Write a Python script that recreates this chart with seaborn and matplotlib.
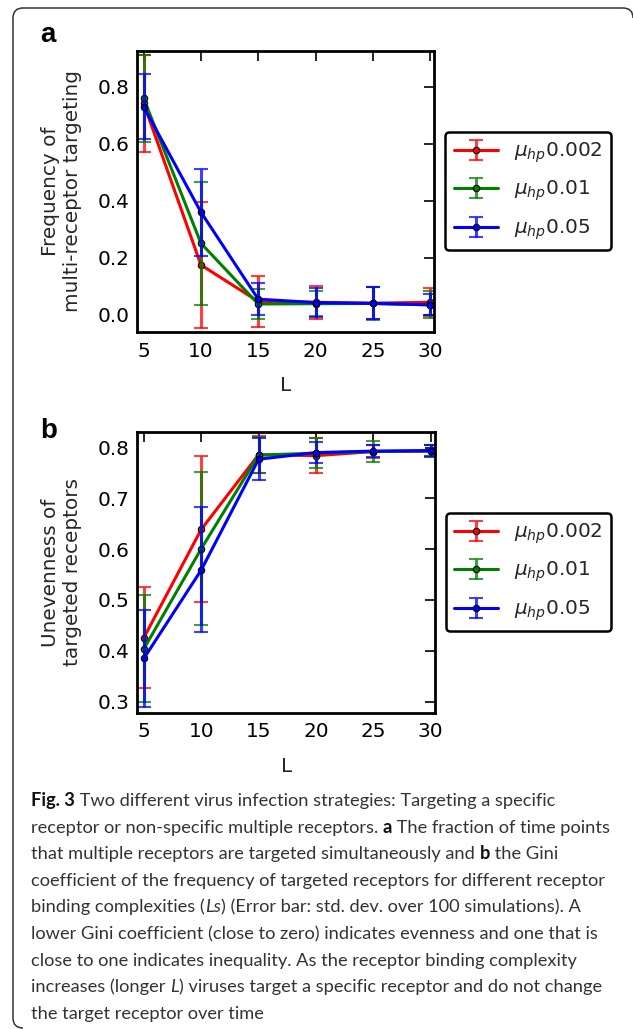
import seaborn as sns
import matplotlib.pyplot as plt
from matplotlib.patches import PathPatch
from matplotlib.path import Path
from matplotlib.transforms import IdentityTransform
from matplotlib.legend_handler import HandlerTuple

# ---- Data ----
L_VALUES = [5, 10, 15, 20, 25, 30]
MU_LABELS = [r"$\mu_{hp}$0.002", r"$\mu_{hp}$0.01", r"$\mu_{hp}$0.05"]
COLORS = ["red", "green", "blue"]

# panel a: frequency of multi-receptor targeting (mean, std. dev.)
freq_002 = [0.742, 0.175, 0.047, 0.044, 0.041, 0.044]
freq_002_sd = [0.170, 0.222, 0.088, 0.057, 0.055, 0.049]
freq_001 = [0.759, 0.251, 0.038, 0.039, 0.040, 0.035]
freq_001_sd = [0.153, 0.216, 0.051, 0.043, 0.057, 0.047]
freq_005 = [0.730, 0.360, 0.055, 0.043, 0.040, 0.035]
freq_005_sd = [0.113, 0.153, 0.055, 0.050, 0.056, 0.037]

# panel b: unevenness (Gini coefficient) of targeted receptors
gini_002 = [0.426, 0.639, 0.786, 0.784, 0.792, 0.793]
gini_002_sd = [0.100, 0.144, 0.037, 0.034, 0.013, 0.012]
gini_001 = [0.404, 0.601, 0.785, 0.789, 0.792, 0.793]
gini_001_sd = [0.105, 0.150, 0.036, 0.029, 0.021, 0.012]
gini_005 = [0.385, 0.559, 0.777, 0.790, 0.793, 0.794]
gini_005_sd = [0.095, 0.123, 0.041, 0.021, 0.012, 0.010]

CAPTION = [
    [("Fig. 3", "bold", "normal"), (" Two different virus infection strategies: Targeting a specific", "normal", "normal")],
    [("receptor or non-specific multiple receptors. ", "normal", "normal"), ("a", "bold", "normal"),
     (" The fraction of time points", "normal", "normal")],
    [("that multiple receptors are targeted simultaneously and ", "normal", "normal"), ("b", "bold", "normal"),
     (" the Gini", "normal", "normal")],
    [("coefficient of the frequency of targeted receptors for different receptor", "normal", "normal")],
    [("binding complexities (", "normal", "normal"), ("Ls", "normal", "italic"),
     (") (Error bar: std. dev. over 100 simulations). A", "normal", "normal")],
    [("lower Gini coefficient (close to zero) indicates evenness and one that is", "normal", "normal")],
    [("close to one indicates inequality. As the receptor binding complexity", "normal", "normal")],
    [("increases (longer ", "normal", "normal"), ("L", "normal", "italic"),
     (") viruses target a specific receptor and do not change", "normal", "normal")],
    [("the target receptor over time", "normal", "normal")],
]

# ---- Style ----
sns.set_style("white")
plt.rcParams["font.family"] = ["DejaVu Sans"]
plt.rcParams["mathtext.fontset"] = "dejavusans"

W, H, DPI = 633, 1029, 100
FS = 14.4
fig = plt.figure(figsize=(W / DPI, H / DPI), dpi=DPI)

ax_a = fig.add_axes([0.2164, 0.6774, 0.4700, 0.2730])
ax_b = fig.add_axes([0.2169, 0.3074, 0.4703, 0.2725])


def draw_panel(ax, series, ylim, yticks, ylabel):
    handles = []
    for (vals, sd), color in zip(series, COLORS):
        err = ax.errorbar(L_VALUES, vals, yerr=sd, fmt="none", ecolor=color,
                          elinewidth=2.2, capsize=4.8, capthick=1.5, alpha=0.75)
        sns.lineplot(x=L_VALUES, y=vals, color=color, marker="o", markersize=4.6,
                     markeredgecolor="black", markeredgewidth=0.8, linewidth=2.2,
                     errorbar=None, ax=ax)
        handles.append((err, ax.lines[-1]))
    ax.set_xlim(4.42, 30.38)
    ax.set_ylim(*ylim)
    ax.set_xticks(L_VALUES)
    ax.set_yticks(yticks)
    ax.set_yticklabels([f"{t:.1f}" for t in yticks])
    ax.tick_params(axis="both", direction="in", length=7, width=1.2, top=True, right=True,
                   labelsize=FS, colors="black")
    ax.tick_params(axis="x", pad=7)
    ax.tick_params(axis="y", pad=5.5)
    for sp in ax.spines.values():
        sp.set_visible(True)
        sp.set_linewidth(2.0)
        sp.set_color("black")
    ax.set_xlabel("L", fontsize=FS, labelpad=11)
    ax.set_ylabel(ylabel, fontsize=FS, linespacing=1.2)
    ax.yaxis.set_label_coords(-0.185, 0.5)
    leg = ax.legend(handles, MU_LABELS, handler_map={tuple: HandlerTuple(ndivide=1)},
                    loc="upper left", bbox_to_anchor=(1.036, 0.712), borderaxespad=0,
                    fontsize=FS, handlelength=2.2, labelspacing=0.7, borderpad=0.42,
                    handletextpad=0.8, fancybox=True, framealpha=1)
    leg.get_frame().set_edgecolor("black")
    leg.get_frame().set_linewidth(1.8)


draw_panel(ax_a, [(freq_002, freq_002_sd), (freq_001, freq_001_sd), (freq_005, freq_005_sd)],
           (-0.06, 0.925), [0.0, 0.2, 0.4, 0.6, 0.8], "Frequency of\nmulti-receptor targeting")
draw_panel(ax_b, [(gini_002, gini_002_sd), (gini_001, gini_001_sd), (gini_005, gini_005_sd)],
           (0.278, 0.830), [0.3, 0.4, 0.5, 0.6, 0.7, 0.8], "Unevenness of\ntargeted receptors")

# panel letters
px = IdentityTransform()
fig.text(40, H - 42, "a", transform=px, fontsize=20, fontweight="bold",
         family="Liberation Sans", va="baseline", color="black")
fig.text(40, H - 438, "b", transform=px, fontsize=20, fontweight="bold",
         family="Liberation Sans", va="baseline", color="black")

# outer frame: left and top edges with rounded corners (pixel coords, origin top-left)
frame_pts = [(23, 1028), (13, 1028), (13, 1018), (13, 18), (13, 8), (23, 8),
             (623, 8), (633, 8), (633, 18)]
frame_codes = [Path.MOVETO, Path.CURVE3, Path.CURVE3, Path.LINETO, Path.CURVE3, Path.CURVE3,
               Path.LINETO, Path.CURVE3, Path.CURVE3]
frame_path = Path([(x, H - y) for x, y in frame_pts], frame_codes)
fig.add_artist(PathPatch(frame_path, transform=px, fill=False, edgecolor="#333333", linewidth=1.1))

# ---- Caption ----
CAP_FONT = "Lato"
renderer = fig.canvas.get_renderer()
probe = fig.text(0, 0, "".join(r[0] for r in CAPTION[1]), fontsize=12, family=CAP_FONT)
probe_w = probe.get_window_extent(renderer=renderer).width
probe.remove()
cap_size = 12 * 579 / probe_w

for i, line in enumerate(CAPTION):
    x = 31
    y = H - (806 + i * 26.6)
    for text, weight, style in line:
        t = fig.text(x, y, text, transform=px, fontsize=cap_size, family=CAP_FONT,
                     fontweight=weight, fontstyle=style, va="baseline",
                     color="#111111" if weight == "bold" else "#333333")
        x += t.get_window_extent(renderer=renderer).width

fig.savefig("out.png", dpi=DPI)
